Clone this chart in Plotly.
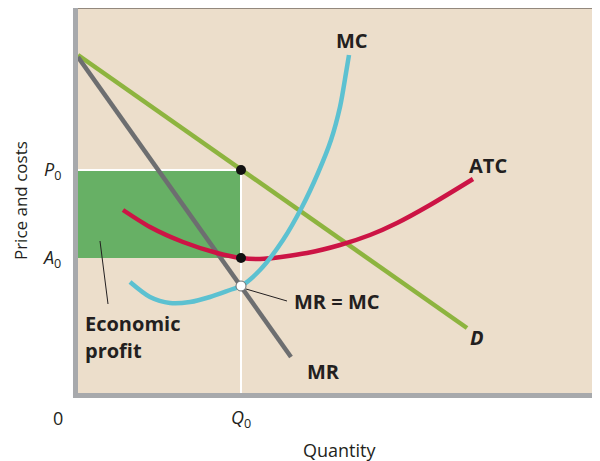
import plotly.graph_objects as go

# quantities / prices (arbitrary units)
q0 = 3.26
p0 = 4.46
a0 = 2.70
mr_at_q0 = 2.14

demand_q = [0.0, 7.78]
demand_p = [6.76, 1.30]

mr_q = [0.0, 4.26]
mr_p = [6.72, 0.72]

mc_q = [1.04, 1.44, 1.84, 2.24, 2.64, 3.04, 3.26, 3.64, 4.10, 4.48, 4.80, 5.06, 5.24, 5.36, 5.42]
mc_p = [2.22, 1.92, 1.80, 1.82, 1.92, 2.06, 2.14, 2.46, 3.06, 3.72, 4.40, 5.06, 5.72, 6.40, 6.76]

atc_q = [0.90, 1.44, 2.10, 2.78, 3.26, 3.64, 4.58, 5.24, 5.84, 6.38, 7.04, 7.90]
atc_p = [3.66, 3.32, 3.02, 2.80, 2.70, 2.68, 2.80, 2.96, 3.16, 3.40, 3.76, 4.28]

BG = "#ecdecb"
GREEN = "#67b065"
OLIVE = "#8db43f"
GREY = "#6d6e70"
CYAN = "#5cc1d1"
RED = "#cc1445"
AXIS = "#a7a9ac"
INK = "#231f20"
FONT = "Open Sans"

fig = go.Figure()

# economic profit rectangle
fig.add_shape(type="rect", x0=0, x1=q0, y0=a0, y1=p0, xref="x", yref="y",
              fillcolor=GREEN, line_width=0, layer="below")
fig.add_trace(go.Scatter(x=[0, q0, q0], y=[p0, p0, 0], mode="lines",
                         line=dict(color="white", width=2), hoverinfo="skip"))

fig.add_trace(go.Scatter(x=demand_q, y=demand_p, mode="lines",
                         line=dict(color=OLIVE, width=4.5)))
fig.add_trace(go.Scatter(x=mr_q, y=mr_p, mode="lines",
                         line=dict(color=GREY, width=4.5)))
fig.add_trace(go.Scatter(x=atc_q, y=atc_p, mode="lines", line_shape="spline",
                         line=dict(color=RED, width=4.5, smoothing=0.8)))
fig.add_trace(go.Scatter(x=mc_q, y=mc_p, mode="lines", line_shape="spline",
                         line=dict(color=CYAN, width=4.5, smoothing=0.8)))

# leader lines
fig.add_trace(go.Scatter(x=[0.44, 0.60], y=[3.04, 1.78], mode="lines",
                         line=dict(color=INK, width=1)))
fig.add_trace(go.Scatter(x=[3.36, 4.18], y=[2.08, 1.84], mode="lines",
                         line=dict(color=INK, width=1)))

# points
fig.add_trace(go.Scatter(x=[q0, q0], y=[p0, a0], mode="markers",
                         marker=dict(color="#111111", size=10)))
fig.add_trace(go.Scatter(x=[q0], y=[mr_at_q0], mode="markers",
                         marker=dict(color="white", size=10, line=dict(color=GREY, width=1))))

bold = dict(family=FONT, size=20, color=INK, weight="bold")
labels = [
    (5.48, 7.06, "MC", "center"),
    (8.20, 4.56, "ATC", "center"),
    (7.98, 1.12, "<i>D</i>", "center"),
    (4.90, 0.44, "MR", "center"),
    (4.28, 1.84, "MR = MC", "left"),
    (0.10, 1.40, "Economic", "left"),
    (0.10, 0.86, "profit", "left"),
]
for x, y, t, anc in labels:
    fig.add_annotation(x=x, y=y, text=t, showarrow=False, xanchor=anc, font=bold)

tick_font = dict(family=FONT, size=18, color=INK)
fig.add_annotation(x=0, y=p0, text="<i>P</i><sub>0</sub>", showarrow=False,
                   xanchor="right", xshift=-15, font=tick_font)
fig.add_annotation(x=0, y=a0, text="<i>A</i><sub>0</sub>", showarrow=False,
                   xanchor="right", xshift=-15, font=tick_font)
fig.add_annotation(x=q0, y=0, text="<i>Q</i><sub>0</sub>", showarrow=False,
                   yshift=-25, font=tick_font)
fig.add_annotation(x=0, y=0, text="0", showarrow=False, xshift=-20, yshift=-25,
                   font=tick_font)

fig.add_annotation(x=0.5, y=-0.148, xref="paper", yref="paper", text="Quantity",
                   xanchor="center", yanchor="middle", showarrow=False,
                   font=dict(family=FONT, size=18, color=INK))
fig.add_annotation(x=-0.110, y=0.5, xref="paper", yref="paper", text="Price and costs",
                   xanchor="center", yanchor="middle", textangle=-90, showarrow=False,
                   font=dict(family=FONT, size=17, color=INK))

# axis frame
fig.add_shape(type="line", xref="paper", yref="paper", x0=-0.0048, x1=-0.0048,
              y0=-0.0125, y1=1.004, line=dict(color=AXIS, width=5))
fig.add_shape(type="line", xref="paper", yref="paper", x0=-0.0096, x1=1,
              y0=-0.0065, y1=-0.0065, line=dict(color=AXIS, width=5))
fig.add_shape(type="line", xref="paper", yref="paper", x0=0, x1=1,
              y0=1.001, y1=1.001, line=dict(color="#3a3230", width=2))

fig.update_xaxes(range=[0, 10.44], visible=False, fixedrange=True)
fig.update_yaxes(range=[0, 7.70], visible=False, fixedrange=True)
# page body has an 8px margin, so the figure is shifted by 8px
fig.update_layout(
    width=592, height=453,
    margin=dict(l=70, r=0, t=0, b=68),
    plot_bgcolor=BG, paper_bgcolor="white",
    showlegend=False,
)

fig.write_html("out.html")
